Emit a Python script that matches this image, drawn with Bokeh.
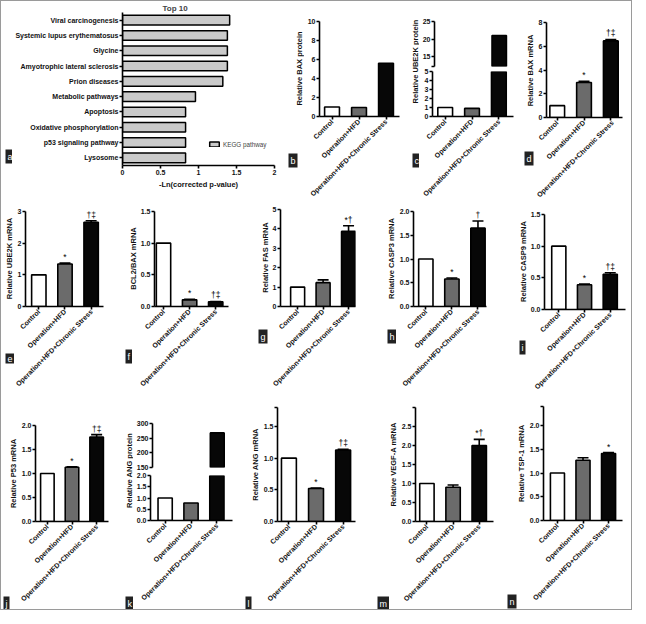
import numpy as np
from math import pi
from bokeh.plotting import figure
from bokeh.layouts import row, column
from bokeh.models import Range1d, FactorRange, FixedTicker, Label, Whisker, TeeHead, ColumnDataSource, Title
from bokeh.core.properties import value
from bokeh.embed import file_html
from bokeh.resources import INLINE

# ---------------- data ----------------
groups = ["Control", "Operation+HFD", "Operation+HFD+Chronic Stress"]

pathways = ["Viral carcinogenesis", "Systemic lupus erythematosus", "Glycine",
            "Amyotrophic lateral sclerosis", "Prion diseases", "Metabolic pathways",
            "Apoptosis", "Oxidative phosphorylation", "p53 signaling pathway", "Lysosome"]
neg_ln_p = [1.41, 1.38, 1.38, 1.38, 1.32, 0.96, 0.83, 0.83, 0.83, 0.83]
kegg_ticks = [0.0, 0.5, 1.0, 1.5, 2.0]

bax_protein = [1.0, 0.95, 5.6]
bax_protein_ticks = [0, 2, 4, 6, 8, 10]
bax_protein_labels = ["0", "2", "4", "6", "8", "10"]

ube2k_protein = [1.0, 0.9, 21.0]
ube2k_protein_low_ticks = [0, 1, 2, 3, 4, 5]
ube2k_protein_low_labels = ["0", "1", "2", "3", "4", "5"]
ube2k_protein_high_ticks = [12.2, 15, 20, 25]
ube2k_protein_high_labels = ["", "15", "20", "25"]

bax_mrna = [1.0, 2.95, 6.45]
bax_mrna_err = [0.0, 0.1, 0.12]
bax_mrna_sig = ["", "*", "†‡"]
bax_mrna_ticks = [0, 2, 4, 6, 8]
bax_mrna_labels = ["0", "2", "4", "6", "8"]

ube2k_mrna = [1.0, 1.34, 2.66]
ube2k_mrna_err = [0.0, 0.03, 0.05]
ube2k_mrna_sig = ["", "*", "†‡"]
ube2k_mrna_ticks = [0, 1, 2, 3]
ube2k_mrna_labels = ["0", "1", "2", "3"]

bcl2_bax = [1.0, 0.105, 0.075]
bcl2_bax_err = [0.0, 0.01, 0.005]
bcl2_bax_sig = ["", "*", "†‡"]
bcl2_bax_ticks = [0, 0.5, 1.0, 1.5]
bcl2_bax_labels = ["0.0", "0.5", "1.0", "1.5"]

fas = [1.0, 1.23, 3.87]
fas_err = [0.0, 0.14, 0.29]
fas_sig = ["", "", "*†"]
fas_ticks = [0, 1, 2, 3, 4, 5]
fas_labels = ["0", "1", "2", "3", "4", "5"]

casp3 = [1.0, 0.58, 1.65]
casp3_err = [0.0, 0.02, 0.15]
casp3_sig = ["", "*", "†"]
casp3_ticks = [0, 0.5, 1.0, 1.5, 2.0]
casp3_labels = ["0.0", "0.5", "1.0", "1.5", "2.0"]

casp9 = [1.0, 0.39, 0.555]
casp9_err = [0.0, 0.01, 0.025]
casp9_sig = ["", "*", "†‡"]
casp9_ticks = [0, 0.5, 1.0, 1.5]
casp9_labels = ["0.0", "0.5", "1.0", "1.5"]

p53 = [1.0, 1.13, 1.76]
p53_err = [0.0, 0.01, 0.05]
p53_sig = ["", "*", "†‡"]
p53_ticks = [0, 0.5, 1.0, 1.5, 2.0]
p53_labels = ["0.0", "0.5", "1.0", "1.5", "2.0"]

ang_protein = [1.0, 0.78, 268.0]
ang_protein_low_ticks = [0, 0.5, 1.0, 1.5, 2.0]
ang_protein_low_labels = ["0.0", "0.5", "1.0", "1.5", "2.0"]
ang_protein_high_ticks = [150, 200, 250, 300]
ang_protein_high_labels = ["150", "200", "250", "300"]

ang_mrna = [1.0, 0.52, 1.13]
ang_mrna_err = [0.0, 0.01, 0.01]
ang_mrna_sig = ["", "*", "†‡"]
ang_mrna_ticks = [0, 0.5, 1.0, 1.5, 1.8]
ang_mrna_labels = ["0.0", "0.5", "1.0", "1.5", ""]

vegfa = [1.0, 0.9, 2.0]
vegfa_err = [0.0, 0.06, 0.16]
vegfa_sig = ["", "", "*†"]
vegfa_ticks = [0, 0.5, 1.0, 1.5, 2.0, 2.5, 3.0]
vegfa_labels = ["0.0", "0.5", "1.0", "1.5", "2.0", "2.5", ""]

tsp1 = [1.0, 1.27, 1.41]
tsp1_err = [0.0, 0.05, 0.02]
tsp1_sig = ["", "", "*"]
tsp1_ticks = [0, 0.5, 1.0, 1.5, 2.0, 2.4]
tsp1_labels = ["0.0", "0.5", "1.0", "1.5", "2.0", ""]

# ---------------- style / layout helpers ----------------
FONT = "Liberation Sans"
bar_colors = ["white", "#6b6b6b", "#070707"]
S = 0.975


def P(v):
    return int(round(v * S))


def key(t):
    return int(t) if float(t).is_integer() else float(t)


def style_axis(ax):
    ax.axis_line_color = "black"
    ax.axis_line_width = 1.6
    ax.major_tick_line_color = "black"
    ax.major_tick_line_width = 1.6
    ax.major_tick_out = 3
    ax.major_tick_in = 0
    ax.minor_tick_line_color = None
    ax.major_label_text_font = FONT
    ax.major_label_text_font_style = "bold"
    ax.major_label_text_font_size = "7px"
    ax.major_label_text_color = "#111111"
    ax.major_label_standoff = 1
    ax.axis_label_text_font = FONT
    ax.axis_label_text_font_style = "bold"
    ax.axis_label_text_font_size = "7.5px"
    ax.axis_label_text_color = "#111111"
    ax.axis_label_standoff = 2


def base_fig(cell, frame, xr, yr):
    cx0, cy0, cx1, cy1 = cell
    L, T, R, B = frame
    p = figure(width=P(cx1) - P(cx0), height=P(cy1) - P(cy0), x_range=xr, y_range=yr,
               output_backend="svg", toolbar_location=None, tools="",
               min_border_left=P(L) - P(cx0), min_border_right=P(cx1) - P(R),
               min_border_top=P(T) - P(cy0), min_border_bottom=P(cy1) - P(B))
    p.frame_align = False
    p.outline_line_color = None
    p.grid.visible = False
    p.background_fill_color = "white"
    p.border_fill_color = "white"
    return p


def strip_fig(x0, x1, y0, y1, text, tx, ty, letter, lpos):
    """Narrow figure left of a panel holding its y-axis title and panel letter."""
    W = P(x1) - P(x0)
    H = P(y1) - P(y0)
    p = figure(width=W, height=H, x_range=Range1d(0, W), y_range=Range1d(0, H),
               x_axis_location=None, y_axis_location=None, min_border=0,
               output_backend="svg", toolbar_location=None, tools="")
    p.frame_align = False
    p.outline_line_color = None
    p.grid.visible = False
    if text:
        p.add_layout(Label(x=P(tx) - P(x0), y=P(y1) - P(ty), text=text, angle=pi / 2,
                           text_align="center", text_baseline="middle", text_font=FONT,
                           text_font_style="bold", text_font_size="7.5px", text_color="#111111"))
    p.add_layout(Label(x=P(lpos[0] + 2) - P(x0), y=P(y1) - P(lpos[1] + 9), text=letter,
                       text_color="white", text_font=FONT, text_font_size="9px",
                       text_baseline="bottom", background_fill_color="#222222", padding=2))
    return p


def xrange_for(frame, c0, c2):
    L, T, R, B = frame
    d = (c2 - c0) / 2.0
    return Range1d((L - c0) / d, (R - c0) / d)


def setup_x(p, show=True):
    xs = list(range(len(groups)))
    p.xaxis.ticker = FixedTicker(ticks=xs)
    p.xaxis.major_label_overrides = {i: g for i, g in zip(xs, groups)}
    p.xaxis.major_label_orientation = pi / 4
    for ax in p.xaxis:
        style_axis(ax)
    if not show:
        p.xaxis.visible = False


def setup_y(p, ticks, labels):
    p.yaxis.ticker = FixedTicker(ticks=ticks)
    p.yaxis.major_label_overrides = {key(t): l for t, l in zip(ticks, labels)}
    for ax in p.yaxis:
        style_axis(ax)


def add_bars(p, vals, errs=None, sigs=None, ymin=0):
    idx = [i for i, v in enumerate(vals) if v > ymin]
    src = ColumnDataSource(dict(x=idx, top=[vals[i] for i in idx],
                                color=[bar_colors[i] for i in idx]))
    p.vbar(x="x", top="top", bottom=0, width=0.55, fill_color="color",
           line_color="black", line_width=1.6, source=src)
    if errs is not None:
        eidx = [i for i, e in enumerate(errs) if e > 0]
        if eidx:
            wsrc = ColumnDataSource(dict(x=eidx, lo=[vals[i] for i in eidx],
                                         hi=[vals[i] + errs[i] for i in eidx]))
            p.add_layout(Whisker(source=wsrc, base="x", lower="lo", upper="hi",
                                 line_color="black", line_width=1.6,
                                 upper_head=TeeHead(size=11, line_width=1.6, line_color="black"),
                                 lower_head=None))
    if sigs is not None:
        sidx = [i for i, s in enumerate(sigs) if s]
        if sidx:
            tsrc = ColumnDataSource(dict(x=sidx, y=[vals[i] + (errs[i] if errs else 0) for i in sidx],
                                         t=[sigs[i] for i in sidx]))
            p.text(x="x", y="y", text="t", source=tsrc, text_align="center",
                   text_baseline="bottom", text_font=value(FONT), text_font_size="8.5px",
                   y_offset=-1, text_color="#000000")


def bar_panel(cell, split, frame, centers, vals, errs, sigs, ticks, labels, ylabel, ylx,
              letter, lpos):
    cx0, cy0, cx1, cy1 = cell
    L, T, R, B = frame
    strip = strip_fig(cx0, split, cy0, cy1, ylabel, ylx, (T + B) / 2.0, letter, lpos)
    p = base_fig((split, cy0, cx1, cy1), frame, xrange_for(frame, *centers),
                 Range1d(ticks[0], ticks[-1]))
    add_bars(p, vals, errs, sigs)
    setup_x(p)
    setup_y(p, ticks, labels)
    return row(strip, p)


def broken_panel(xl, xm, xr_, y0, ybrk, y1, fup, flow, centers, vals, up_ticks, up_labels,
                 low_ticks, low_labels, ylabel, lab_y, lab_x, letter, lpos):
    lf = strip_fig(xl, xm, y0, y1, ylabel, lab_x, lab_y, letter, lpos)
    pu = base_fig((xm, y0, xr_, ybrk), fup, xrange_for(fup, *centers),
                  Range1d(up_ticks[0], up_ticks[-1]))
    add_bars(pu, vals, ymin=up_ticks[0])
    setup_x(pu, show=False)
    setup_y(pu, up_ticks, up_labels)
    pl = base_fig((xm, ybrk, xr_, y1), flow, xrange_for(flow, *centers),
                  Range1d(low_ticks[0], low_ticks[-1]))
    add_bars(pl, vals)
    setup_x(pl)
    setup_y(pl, low_ticks, low_labels)
    return row(lf, column(pu, pl))


# ---------------- panel a ----------------
fa = (120, 10, 280, 168)
sa = strip_fig(0, 11, 0, 207, None, 0, 0, "a", (2, 157))
pa = base_fig((11, 0, 288, 207), fa, Range1d(kegg_ticks[0], kegg_ticks[-1]),
              FactorRange(factors=list(reversed(pathways))))
pa.hbar(y=pathways, right=neg_ln_p, left=0, height=0.63, fill_color="#cacaca",
        line_color="black", line_width=1.5, legend_label="KEGG pathway")
pa.xaxis.ticker = FixedTicker(ticks=kegg_ticks)
pa.xaxis.axis_label = "-Ln(corrected p-value)"
for ax in pa.axis:
    style_axis(ax)
pa.legend.location = (P(213) - P(120) - 5, P(168) - P(151))
pa.legend.label_text_font = FONT
pa.legend.label_text_font_size = "6.3px"
pa.legend.glyph_width = 12
pa.legend.glyph_height = 6
pa.legend.label_height = 8
pa.legend.label_standoff = 3
pa.legend.padding = 0
pa.legend.margin = 0
pa.legend.spacing = 0
pa.legend.border_line_color = None
pa.legend.background_fill_alpha = 0
pa.title = Title(text="Top 10", align="left", offset=P(161) - P(120), standoff=0,
                 text_font=FONT, text_font_style="bold", text_font_size="8px",
                 vertical_align="bottom")
panel_a = row(sa, pa)

panel_b = bar_panel((288, 0, 415, 207), 311, (325, 20, 408, 118), (338, 394), bax_protein, None, None,
                    bax_protein_ticks, bax_protein_labels, "Relative BAX protein", 306, "b", (292, 161))

panel_c = broken_panel(415, 429, 528, 0, 69, 207, (442, 21, 525, 67), (442, 72, 525, 118), (455, 510),
                       ube2k_protein, ube2k_protein_high_ticks, ube2k_protein_high_labels,
                       ube2k_protein_low_ticks, ube2k_protein_low_labels, "Relative UBE2K protein",
                       62, 425, "c", (420, 161))

panel_d = bar_panel((528, 0, 646, 207), 548, (559, 22, 637, 120), (570, 625), bax_mrna, bax_mrna_err,
                    bax_mrna_sig, bax_mrna_ticks, bax_mrna_labels, "Relative BAX mRNA", 543, "d", (534, 159))

panel_e = bar_panel((0, 207, 120, 412), 13, (23, 215, 105, 313), (37, 92), ube2k_mrna, ube2k_mrna_err,
                    ube2k_mrna_sig, ube2k_mrna_ticks, ube2k_mrna_labels, "Relative UBE2K mRNA", 8,
                    "e", (2, 362))
panel_f = bar_panel((120, 207, 245, 412), 140, (155, 215, 233, 313), (164.5, 219.5), bcl2_bax,
                    bcl2_bax_err, bcl2_bax_sig, bcl2_bax_ticks, bcl2_bax_labels, "BCL2/BAX mRNA", 135,
                    "f", (125, 362))
panel_g = bar_panel((245, 207, 393, 412), 275, (282, 213, 363, 313), (300.5, 355.5), fas, fas_err,
                    fas_sig, fas_ticks, fas_labels, "Relative FAS mRNA", 271, "g", (262, 342))
panel_h = bar_panel((393, 207, 525, 412), 405, (420, 215, 497, 313), (433, 488), casp3, casp3_err,
                    casp3_sig, casp3_ticks, casp3_labels, "Relative CASP3 mRNA", 400, "h", (394, 342))
panel_i = bar_panel((525, 207, 646, 412), 540, (555, 218, 640, 316), (570, 624), casp9, casp9_err,
                    casp9_sig, casp9_ticks, casp9_labels, "Relative CASP9 mRNA", 535, "i", (529, 353))

panel_j = bar_panel((0, 412, 120, 624), 17, (30, 435, 110, 533), (43, 97), p53, p53_err, p53_sig,
                    p53_ticks, p53_labels, "Relative P53 mRNA", 12.5, "j", (0, 616))
panel_k = broken_panel(120, 135, 245, 412, 482, 624, (153, 433, 237, 478), (153, 486, 237, 532),
                       (168, 221), ang_protein, ang_protein_high_ticks, ang_protein_high_labels,
                       ang_protein_low_ticks, ang_protein_low_labels, "Relative ANG protein",
                       481, 131, "k", (125, 616))
panel_l = bar_panel((245, 412, 380, 624), 266, (281, 416, 363, 533), (293, 350), ang_mrna, ang_mrna_err,
                    ang_mrna_sig, ang_mrna_ticks, ang_mrna_labels, "Relative ANG mRNA", 260, "l",
                    (248, 616))
panel_m = bar_panel((380, 412, 512, 624), 407, (423, 416, 505, 533), (435, 490), vegfa, vegfa_err,
                    vegfa_sig, vegfa_ticks, vegfa_labels, "Relative VEGF-A mRNA", 402, "m", (384, 616))
panel_n = bar_panel((512, 412, 646, 624), 538, (552, 415, 637, 532), (567, 622), tsp1, tsp1_err, tsp1_sig,
                    tsp1_ticks, tsp1_labels, "Relative TSP-1 mRNA", 533, "n", (517, 614))

layout = column(row(panel_a, panel_b, panel_c, panel_d),
                row(panel_e, panel_f, panel_g, panel_h, panel_i),
                row(panel_j, panel_k, panel_l, panel_m, panel_n),
                styles={"border": "1px solid #9a9a9a"})

open("out.html", "w").write(file_html(layout, INLINE))
